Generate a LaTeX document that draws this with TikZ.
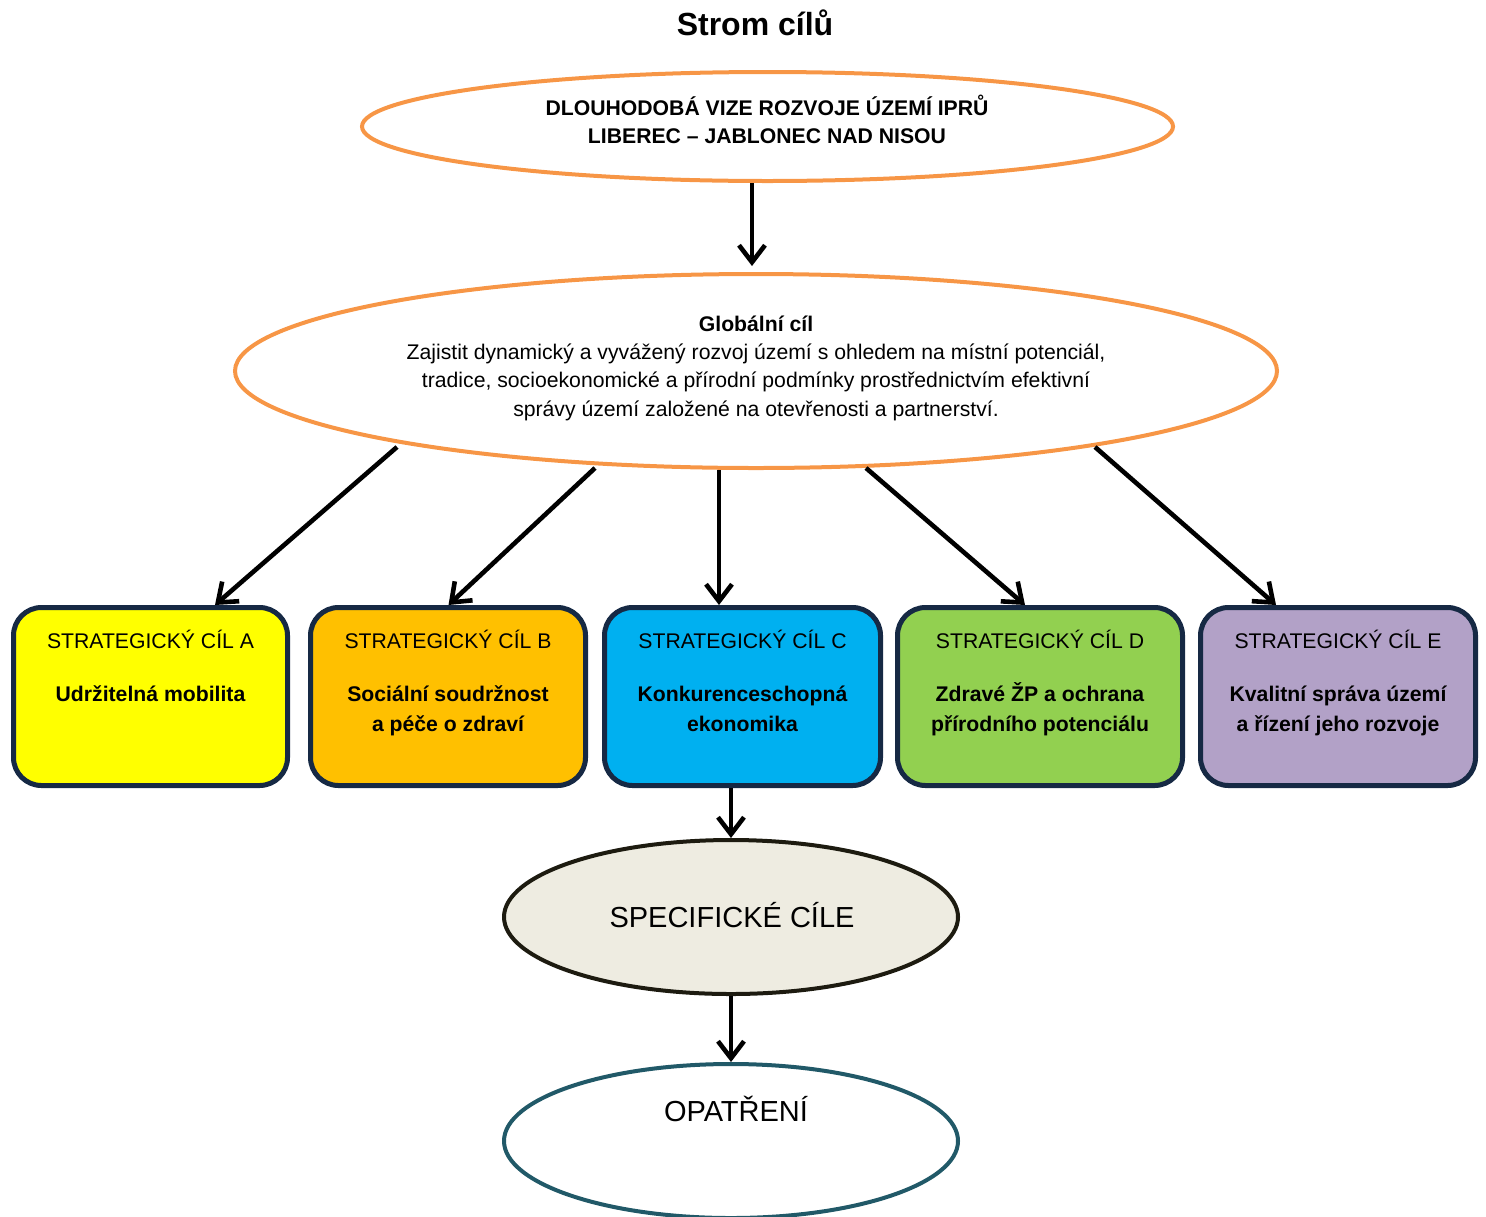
\documentclass[tikz,border=0pt]{standalone}
\usepackage{fontspec}
\setmainfont{Liberation Sans}
\usetikzlibrary{shapes.geometric,arrows.meta}

\definecolor{vizeorange}{RGB}{247,150,70}
\definecolor{boxnavy}{RGB}{22,41,68}
\definecolor{fillA}{RGB}{255,255,0}
\definecolor{fillB}{RGB}{255,192,0}
\definecolor{fillC}{RGB}{0,176,240}
\definecolor{fillD}{RGB}{146,208,80}
\definecolor{fillE}{RGB}{178,161,199}
\definecolor{specfill}{RGB}{238,236,225}
\definecolor{specline}{RGB}{29,27,16}
\definecolor{opatline}{RGB}{33,89,104}

\newcommand{\topstrut}{\rule{0pt}{11pt}}

\tikzset{
  oval/.style={ellipse,draw=vizeorange,line width=2pt,inner sep=0pt},
  goalbox/.style={draw=boxnavy,line width=2.5pt,rounded corners=14pt,minimum height=89pt},
  arr/.style={-{Straight Barb[length=8.5pt,width=13pt]},line width=2.3pt},
  txt/.style={font=\fontsize{10.6}{14.2}\selectfont,align=center,inner sep=0pt}
}

\begin{document}
\begin{tikzpicture}[x=0.5pt,y=-0.5pt]
\useasboundingbox (0,0) rectangle (1486,1216);

% title
\node[txt,anchor=base,font=\fontsize{16}{19}\selectfont\bfseries] (title) at (755,35.5) {Strom cílů};

% vision and global goal
\node[oval,minimum width=405.5pt,minimum height=54.5pt] (vize) at (767.5,126.5) {};
\node[txt,anchor=north,font=\fontsize{10.6}{14}\selectfont\bfseries] (vizetxt) at (767,92.6)
  {\topstrut DLOUHODOBÁ VIZE ROZVOJE ÚZEMÍ IPRŮ\\LIBEREC -- JABLONEC NAD NISOU};

\node[oval,minimum width=521pt,minimum height=97pt] (global) at (756,371) {};
\node[txt,anchor=north] (globaltxt) at (756,308.6)
  {\topstrut\textbf{Globální cíl}\\
   Zajistit dynamický a vyvážený rozvoj území s ohledem na místní potenciál,\\
   tradice, socioekonomické a přírodní podmínky prostřednictvím efektivní\\
   správy území založené na otevřenosti a partnerství.};

\draw[arr,shorten >=3pt] ([xshift=-7.75pt]vize.south) -- ([xshift=-2pt]global.north);

% strategic goals
\foreach \l/\x/\w/\sx/\sy/\dx/\name in {
  A/150.5/137/-359/76/32.25/{Udržitelná mobilita},
  B/448/137.5/-161/97/0.25/{Sociální soudržnost\\a péče o zdraví},
  C/742.5/138/-37/99/-11.75/{Konkurenceschopná\\ekonomika},
  D/1040/142.5/110/97/-7.5/{Zdravé ŽP a ochrana\\přírodního potenciálu},
  E/1338/137.5/339/76/-31/{Kvalitní správa území\\a řízení jeho rozvoje}}
{
  \node[goalbox,fill=fill\l,minimum width=\w pt] (cil\l) at (\x,696.5) {};
  \node[txt,anchor=base] (head\l) at (\x,648) {STRATEGICKÝ CÍL \l};
  \node[txt,anchor=north,font=\fontsize{10.6}{15}\selectfont\bfseries] (name\l) at (\x,678.6) {\topstrut\name};
  \draw[arr] ([shift={(\sx,\sy)}]global.center) -- ([xshift=\dx pt]cil\l.north);
}

% specific goals and measures
\node[ellipse,draw=specline,line width=2pt,fill=specfill,minimum width=227pt,minimum height=77pt] (spec) at (731,917) {};
\node[txt,anchor=base,font=\fontsize{14.5}{17}\selectfont] (spectxt) at (732,927.4) {SPECIFICKÉ CÍLE};

\node[ellipse,draw=opatline,line width=2pt,minimum width=227pt,minimum height=77pt] (opat) at (731,1141) {};
\node[txt,anchor=base,font=\fontsize{14.5}{17}\selectfont] (opattxt) at (736,1121.4) {OPATŘENÍ};

\draw[arr] (cilC.south -| spec.north) -- (spec.north);
\draw[arr] (spec.south) -- (opat.north);
\end{tikzpicture}
\end{document}
